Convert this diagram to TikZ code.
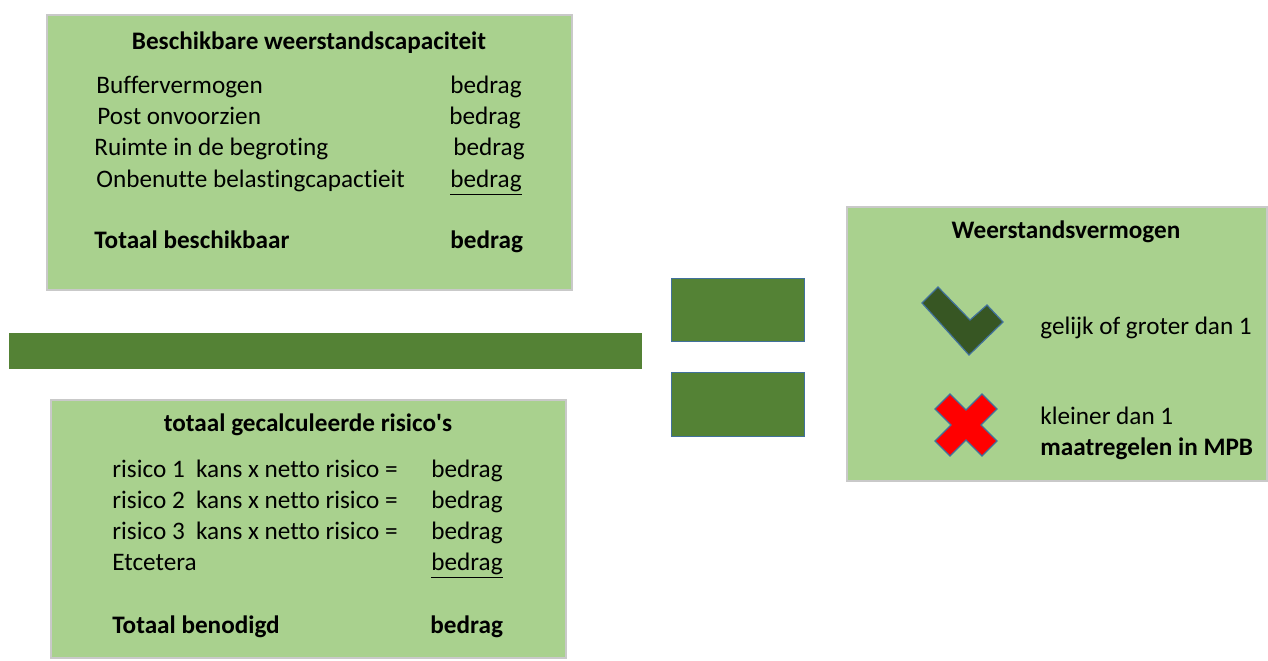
\documentclass[tikz,border=0pt]{standalone}
\usepackage{fontspec}
\setmainfont[Ligatures=NoCommon]{Carlito}
\definecolor{lichtgroen}{HTML}{A9D18E}
\definecolor{donkergroen}{HTML}{548235}
\definecolor{vinkgroen}{HTML}{375623}
\definecolor{randblauw}{HTML}{41719C}
\definecolor{randgrijs}{HTML}{C9C9C9}
\begin{document}
\begin{tikzpicture}[x=0.5pt,y=-0.5pt,
  vak/.style={fill=lichtgroen,draw=randgrijs,line width=0.6pt},
  balk/.style={fill=donkergroen,draw=randblauw,line width=0.5pt},
  tekst/.style={font=\fontsize{12.6}{15}\selectfont,inner sep=0pt,text height=2ex,text depth=.4ex},
  kop/.style={tekst,font=\fontsize{12.6}{15}\selectfont\bfseries}]
\useasboundingbox (0,0) rectangle (1268,660);
% bovenste vak
\draw[vak] (47,15) rectangle (572,290);
\node[kop] (kopboven) at (309,42) {Beschikbare weerstandscapaciteit};
\node[tekst,anchor=west] (buffer) at (96,86) {Buffervermogen};
\node[tekst,anchor=west] (post) at (97,117) {Post onvoorzien};
\node[tekst,anchor=west] (ruimte) at (94,148) {Ruimte in de begroting};
\node[tekst,anchor=west] (onbenut) at (96,180) {Onbenutte belastingcapactieit};
\node[tekst,anchor=west] (bbuffer) at (450,86) {bedrag};
\node[tekst,anchor=west] (bpost) at (449,117) {bedrag};
\node[tekst,anchor=west] (bruimte) at (453,148) {bedrag};
\node[tekst,anchor=west] (bonbenut) at (450,180) {\underline{bedrag}};
\node[kop,anchor=west] (totboven) at (94,241) {Totaal beschikbaar};
\node[kop,anchor=west] (btotboven) at (450,241) {bedrag};
% deelstreep
\fill[donkergroen] (9,333) rectangle (642,369);
% onderste vak
\draw[vak] (51,400) rectangle (566,658);
\node[kop] (koponder) at (308,424) {totaal gecalculeerde risico\textquotesingle s};
\node[tekst,anchor=west] (risico1) at (112,470) {risico 1\ \ kans x netto risico =};
\node[tekst,anchor=west] (risico2) at (112,501) {risico 2\ \ kans x netto risico =};
\node[tekst,anchor=west] (risico3) at (112,532) {risico 3\ \ kans x netto risico =};
\node[tekst,anchor=west] (etc) at (112,563) {Etcetera};
\node[tekst,anchor=west] (brisico1) at (431,470) {bedrag};
\node[tekst,anchor=west] (brisico2) at (431,501) {bedrag};
\node[tekst,anchor=west] (brisico3) at (431,532) {bedrag};
\node[tekst,anchor=west] (betc) at (431,563) {\underline{bedrag}};
\node[kop,anchor=west] (totonder) at (112,626) {Totaal benodigd};
\node[kop,anchor=west] (btotonder) at (430,626) {bedrag};
% is-teken
\draw[balk] (671,278) rectangle (804,341);
\draw[balk] (671,372) rectangle (804,436);
% rechter vak
\draw[vak] (847,207) rectangle (1267,481);
\node[kop] (kopwv) at (1066,231) {Weerstandsvermogen};
\draw[fill=vinkgroen,draw=randblauw,line width=0.6pt]
  (922,303) -- (938,287) -- (970,320) -- (987,305) -- (1003,322) -- (969,355) -- cycle;
\draw[fill=red,draw=randblauw,line width=0.6pt,shift={(966,425)}]
  (-31,-16) -- (-16,-31) -- (0,-15) -- (16,-31) -- (31,-16) -- (15,0)
  -- (31,16) -- (16,31) -- (0,15) -- (-16,31) -- (-31,16) -- (-15,0) -- cycle;
\node[tekst,anchor=west] (gelijk) at (1040,327) {gelijk of groter dan 1};
\node[tekst,anchor=west] (kleiner) at (1040,417) {kleiner dan 1};
\node[kop,anchor=west] (maatregel) at (1040,448) {maatregelen in MPB};
\end{tikzpicture}
\end{document}
